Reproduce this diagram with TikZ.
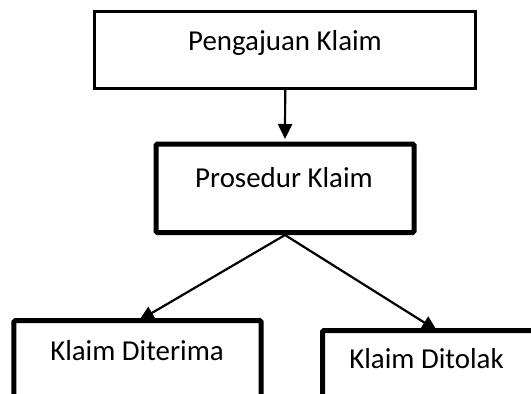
\documentclass[tikz,border=0pt]{standalone}
\usepackage{fontspec}
\setmainfont{Carlito}
\usetikzlibrary{arrows.meta,backgrounds}
\begin{document}
\begin{tikzpicture}[x=1bp,y=-1bp,
  box/.style={draw, fill=white, rectangle, inner sep=0pt},
  lbl/.style={anchor=base, inner sep=0pt, font=\fontsize{29}{34}\selectfont},
  conn/.style={line width=2.2bp, -{Triangle[length=15bp,width=14bp]}}]
\useasboundingbox (0,0) rectangle (531,393);
\clip (0,0) rectangle (531,393);
\node[box, line width=2.6bp, minimum width=381bp, minimum height=77.2bp] (top) at (285.2,50.1) {};
\node[box, line width=5bp, rounded corners=1.5bp, minimum width=258bp, minimum height=88.5bp] (mid) at (285,188.25) {};
\node[box, line width=5bp, rounded corners=1.5bp, minimum width=247bp, minimum height=99bp] (acc) at (137.5,370) {};
\node[box, line width=5bp, rounded corners=1.5bp, minimum width=237bp, minimum height=89bp] (rej) at (441,375) {};
\node[lbl] (ttop) at (285,50) {Pengajuan Klaim};
\node[lbl] (tmid) at (284,187) {Prosedur Klaim};
\node[lbl] (tacc) at (137,360) {Klaim Diterima};
\node[lbl] (trej) at (426.5,368) {Klaim Ditolak};
\coordinate (ea) at (139,320.5);
\coordinate (eb) at (437,330.5);
\begin{pgfonlayer}{background}
\draw[conn, shorten >=2.5bp] (top.south) -- (mid.north);
\draw[conn] (mid.south) -- (ea);
\draw[conn] (mid.south) -- (eb);
\end{pgfonlayer}
\end{tikzpicture}
\end{document}
